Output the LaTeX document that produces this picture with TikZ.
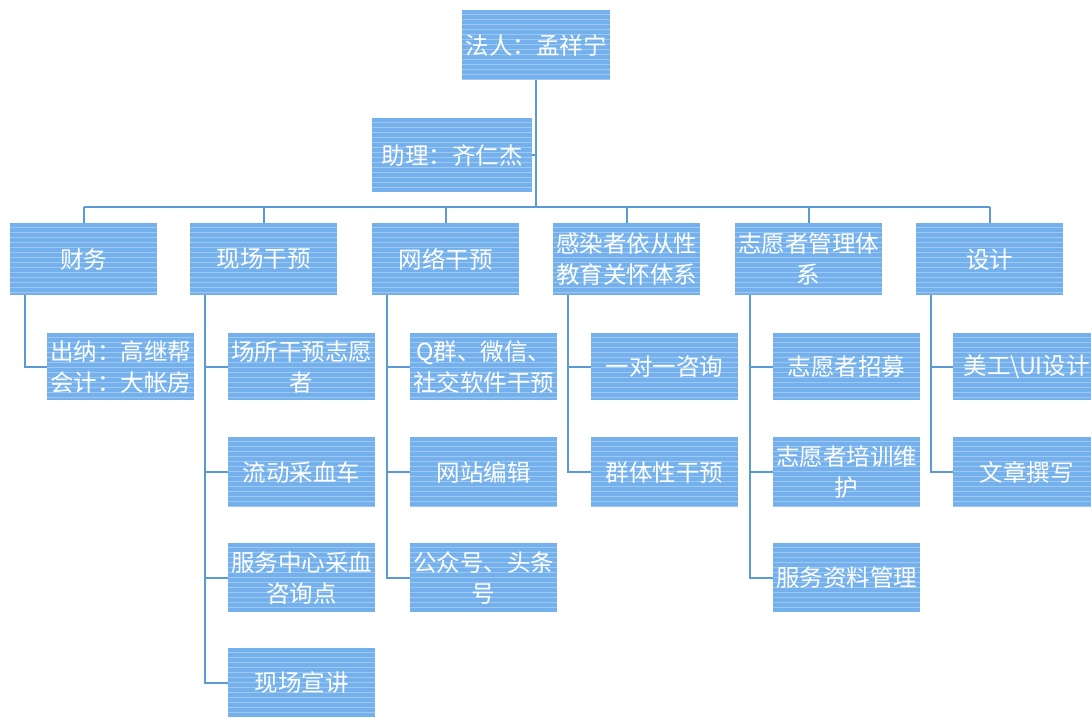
\documentclass[tikz,border=0pt]{standalone}
\usepackage{fontspec}
\newfontfamily\cjk{Noto Sans CJK SC}
\definecolor{boxblue}{HTML}{74B1EC}
\definecolor{lineblue}{HTML}{5B9BD5}
\begin{document}
\begin{tikzpicture}[x=1pt,y=-1pt,
 box/.style={fill=boxblue, minimum width=147pt, minimum height=69pt, anchor=north west, inner sep=0pt, text=white,
   font=\cjk\fontsize{23.5}{31}\selectfont, align=center,
   path picture={\foreach \k in {4,9,...,80}{\draw[white,opacity=0.3,line width=1.1pt] ([yshift=-\k pt]path picture bounding box.north west) -- ([yshift=-\k pt]path picture bounding box.north east);}}},
 link/.style={draw=lineblue, line width=1.8pt}]
\useasboundingbox (0,0) rectangle (1091,717);
\fill[white] (0,0) rectangle (1091,717);
% top levels
\node[box, minimum width=148pt, minimum height=70pt] (top) at (462,10) {法人：孟祥宁};
\node[box, minimum width=160pt, minimum height=74pt] (asst) at (372,118) {助理：齐仁杰};
% level 2
\node[box, minimum height=72pt] (fin) at (10,223) {财务};
\node[box, minimum height=72pt] (site) at (190,223) {现场干预};
\node[box, minimum height=72pt] (net) at (372,223) {网络干预};
\node[box, minimum height=72pt] (edu) at (553,223) {感染者依从性\\教育关怀体系};
\node[box, minimum height=72pt] (vol) at (735,223) {志愿者管理体\\系};
\node[box, minimum height=72pt] (des) at (916,223) {设计};
% level 3
\node[box, minimum height=67pt] (fin1) at (47,333) {出纳：高继帮\\会计：大帐房};
\node[box, minimum height=67pt] (site1) at (228,333) {场所干预志愿\\者};
\node[box, minimum height=70pt] (site2) at (228,437) {流动采血车};
\node[box] (site3) at (228,543) {服务中心采血\\咨询点};
\node[box] (site4) at (228,648) {现场宣讲};
\node[box, minimum height=67pt] (net1) at (410,333) {Q群、微信、\\社交软件干预};
\node[box, minimum height=70pt] (net2) at (410,437) {网站编辑};
\node[box] (net3) at (410,543) {公众号、头条\\号};
\node[box, minimum height=67pt] (edu1) at (591,333) {一对一咨询};
\node[box, minimum height=70pt] (edu2) at (591,437) {群体性干预};
\node[box, minimum height=67pt] (vol1) at (773,333) {志愿者招募};
\node[box, minimum height=70pt] (vol2) at (773,437) {志愿者培训维\\护};
\node[box] (vol3) at (773,543) {服务资料管理};
\node[box, minimum height=67pt] (des1) at (953,333) {美工\textbackslash UI设计};
\node[box, minimum height=70pt] (des2) at (953,437) {文章撰写};
% connectors
\coordinate (bus) at (0,207);
\draw[link] (top.south) -- (top.south |- bus);
\draw[link] (asst.east) -- (asst.east -| top.south);
\draw[link] (fin.north |- bus) -- (des.north |- bus);
\foreach \n in {fin,site,net,edu,vol,des}{
  \draw[link] (\n.north |- bus) -- (\n.north);
}
\draw[link] ([xshift=15pt]fin.south west) |- (fin1.west);
\foreach \c in {site1,site2,site3,site4}{\draw[link] ([xshift=15pt]site.south west) |- (\c.west);}
\foreach \c in {net1,net2,net3}{\draw[link] ([xshift=15pt]net.south west) |- (\c.west);}
\foreach \c in {edu1,edu2}{\draw[link] ([xshift=15pt]edu.south west) |- (\c.west);}
\foreach \c in {vol1,vol2,vol3}{\draw[link] ([xshift=15pt]vol.south west) |- (\c.west);}
\foreach \c in {des1,des2}{\draw[link] ([xshift=15pt]des.south west) |- (\c.west);}
\end{tikzpicture}
\end{document}
